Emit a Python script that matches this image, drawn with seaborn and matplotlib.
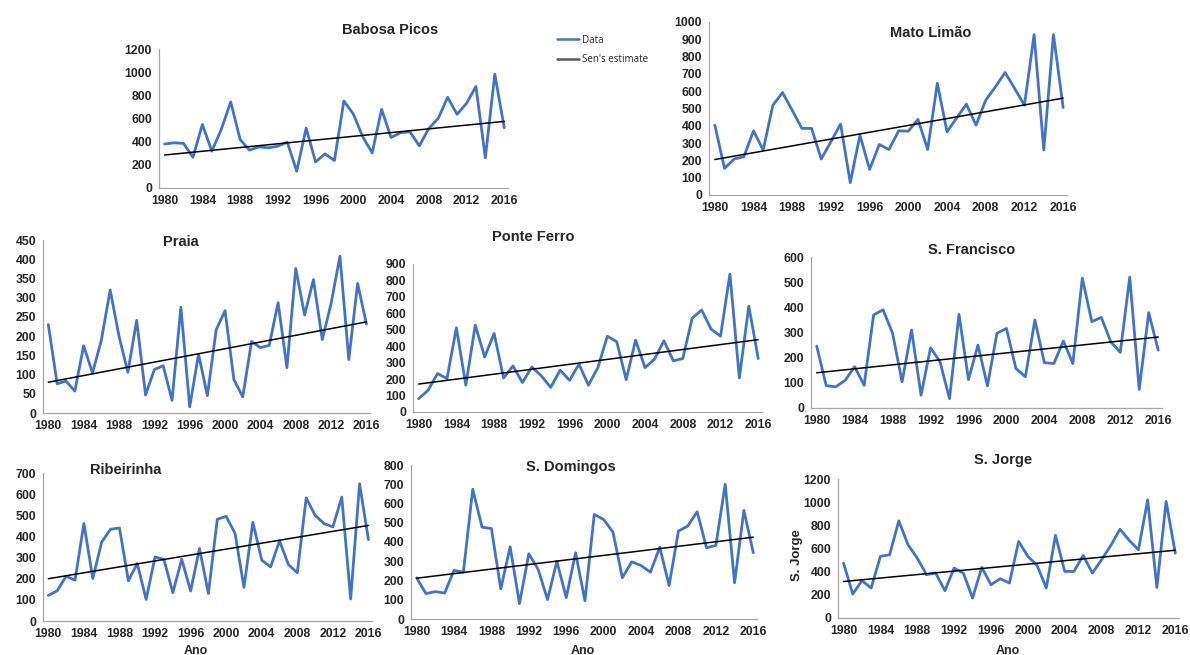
import numpy as np
import pandas as pd
import matplotlib
matplotlib.use("Agg")
import matplotlib.pyplot as plt
import seaborn as sns
from matplotlib.lines import Line2D

sns.set_theme(style="white")
plt.rcParams["font.family"] = ["Liberation Sans", "DejaVu Sans"]

years = list(range(1980, 2017))

babosa_picos = [380, 390, 385, 265, 549, 318, 506, 743, 419, 327, 355, 347, 361, 396, 145,
                517, 225, 295, 237, 751, 639, 442, 303, 679, 436, 477, 486, 364, 514, 601,
                783, 636, 731, 876, 260, 983, 520]
mato_limao = [404, 154, 208, 221, 371, 260, 519, 592, 490, 385, 385, 208, 308, 410, 71,
              346, 148, 292, 263, 371, 369, 437, 263, 646, 365, 446, 525, 404, 548, 625,
              708, 615, 519, 927, 260, 927, 506]
praia = [230, 76, 83, 57, 175, 104, 189, 320, 200, 106, 241, 47, 113, 123, 33,
         275, 16, 153, 45, 217, 266, 87, 42, 186, 170, 176, 287, 118, 376, 255,
         347, 191, 285, 408, 139, 337, 231]
ponte_ferro = [81, 132, 234, 203, 512, 163, 528, 335, 478, 207, 280, 179, 274, 220, 150,
               254, 193, 291, 163, 270, 461, 427, 197, 437, 270, 321, 433, 311, 325, 571,
               620, 504, 461, 839, 207, 644, 325]
sao_francisco = [246, 89, 84, 110, 164, 90, 370, 390, 297, 104, 310, 51, 239, 184, 37,
                 372, 113, 250, 88, 297, 316, 157, 124, 350, 180, 177, 266, 177, 516, 343,
                 360, 263, 221, 520, 74, 379, 230]
ribeirinha = [121, 143, 212, 193, 461, 201, 374, 434, 440, 190, 272, 102, 303, 291, 134,
              292, 142, 343, 130, 481, 495, 414, 159, 467, 288, 256, 379, 267, 228, 582,
              500, 461, 445, 586, 104, 649, 385]
sao_domingos = [214, 132, 142, 135, 253, 243, 674, 477, 470, 156, 375, 80, 339, 257, 101,
                300, 111, 344, 95, 543, 517, 451, 214, 297, 278, 243, 373, 174, 457, 483,
                557, 370, 382, 700, 188, 564, 344]
sao_jorge = [474, 207, 322, 259, 532, 546, 839, 632, 517, 374, 388, 236, 431, 388, 172,
             437, 287, 339, 302, 661, 532, 454, 259, 713, 402, 402, 540, 388, 503, 626,
             767, 670, 589, 1020, 264, 1006, 560]

stations = ["Babosa Picos", "Mato Limão", "Praia", "Ponte Ferro",
            "S. Francisco", "Ribeirinha", "S. Domingos", "S. Jorge"]
series = [babosa_picos, mato_limao, praia, ponte_ferro,
          sao_francisco, ribeirinha, sao_domingos, sao_jorge]
# Sen's estimate of the trend: value at 1980 and at 2016
sen_start = [285, 205, 80, 170, 140, 200, 212, 315]
sen_end = [575, 560, 237, 440, 282, 452, 425, 585]
y_max = [1200, 1000, 450, 900, 600, 700, 800, 1200]
y_step = [200, 100, 50, 100, 100, 100, 100, 200]

W, H = 1190, 655
fig = plt.figure(figsize=(W / 100, H / 100), dpi=100)

# axes boxes in pixels: left, right, top (y_max), bottom (0)
boxes = [(159, 508, 49, 188), (709, 1067, 22, 195), (43, 370, 240, 413),
         (413, 762, 264, 412), (811, 1162, 257, 408), (43, 372, 473, 621),
         (411, 757, 465, 619), (838, 1179, 479, 618)]
title_pos = [(390, 30), (931, 33), (181, 242), (533, 237),
             (972, 250), (126, 470), (571, 467), (1003, 460)]

blue = "#4472C4"
span = years[-1] - years[0]

for i, name in enumerate(stations):
    l, r, t, b = boxes[i]
    ax = fig.add_axes([l / W, 1 - b / H, (r - l) / W, (b - t) / H])
    df = pd.DataFrame({"Ano": years, "valor": series[i]})
    df["sen"] = [sen_start[i] + (sen_end[i] - sen_start[i]) * (yr - years[0]) / span
                 for yr in years]
    sns.lineplot(data=df, x="Ano", y="valor", ax=ax, color=blue, linewidth=2)
    sns.lineplot(data=df, x="Ano", y="sen", ax=ax, color="black", linewidth=1.1)
    ax.set_xlim(1979.4, 2016.4)
    ax.set_ylim(0, y_max[i])
    ax.set_xticks(range(1980, 2017, 4))
    ax.set_yticks(np.arange(0, y_max[i] + 1, y_step[i]))
    ax.set_xlabel("")
    ax.set_ylabel("")
    for s in ["top", "right"]:
        ax.spines[s].set_visible(False)
    for s in ["left", "bottom"]:
        ax.spines[s].set_color("#A6A6A6")
        ax.spines[s].set_linewidth(0.9)
    ax.tick_params(axis="both", labelsize=8.8, colors="#A6A6A6", labelcolor="#262626",
                   length=3, width=0.8, direction="out", pad=2)
    for lab in ax.get_xticklabels() + ax.get_yticklabels():
        lab.set_fontweight("bold")
    ax.patch.set_alpha(0)
    fig.text(title_pos[i][0] / W, 1 - title_pos[i][1] / H, name, ha="center",
             va="center", fontsize=10.5, fontweight="bold", color="#262626")

# axis titles on the bottom row
for x in (196, 583, 1008):
    fig.text(x / W, 1 - 651 / H, "Ano", ha="center", va="center",
             fontsize=9, fontweight="bold", color="#262626")
fig.text(797 / W, 1 - 555 / H, "S. Jorge", ha="center", va="center", rotation=90,
         fontsize=9.5, fontweight="bold", color="#262626")

handles = [Line2D([], [], color=blue, linewidth=1.8),
           Line2D([], [], color="#595959", linewidth=1.8)]
fig.legend(handles, ["Data", "Sen's estimate"], loc="upper left",
           bbox_to_anchor=(548 / W, 1 - 26 / H), frameon=False, fontsize=7,
           handlelength=2.3, handletextpad=0.3, labelspacing=0.9,
           prop={"family": "Open Sans", "size": 7})

fig.savefig("out.png", dpi=100)
